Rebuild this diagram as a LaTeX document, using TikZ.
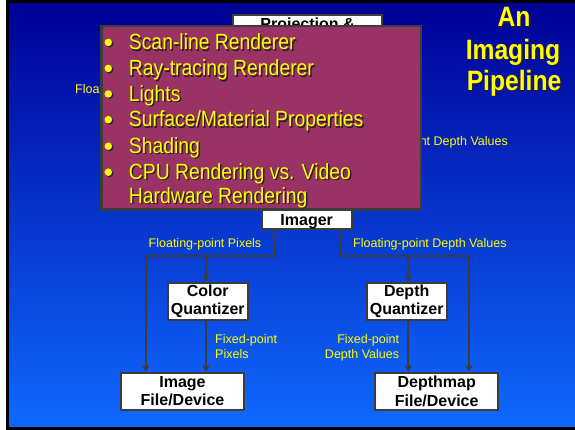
\documentclass[tikz,border=0pt]{standalone}
\usepackage{fontspec}
\setmainfont{Liberation Sans}
\newfontfamily\narrowfont[FakeStretch=0.88]{Liberation Sans}
\usetikzlibrary{arrows.meta}
\definecolor{bgtop}{RGB}{0,0,150}
\definecolor{bgmid}{RGB}{0,70,215}
\definecolor{bgbot}{RGB}{15,105,255}
\definecolor{plum}{RGB}{153,51,102}
\definecolor{edgegray}{RGB}{60,60,60}
\definecolor{hiyellow}{RGB}{255,255,0}
\definecolor{shadowc}{RGB}{40,30,30}
\newcommand{\shad}[1]{\makebox[0pt][l]{\hspace{1.4pt}\raisebox{-1.4pt}{\color{shadowc}#1}}#1}
\tikzset{
  box/.style={draw=edgegray, line width=2pt, fill=white, inner sep=0pt, align=center,
    font=\fontsize{16}{18.7}\selectfont\bfseries},
  boxtext/.style={inner sep=0pt, font=\fontsize{16}{18.7}\selectfont\bfseries},
  flowlabel/.style={text=hiyellow, inner sep=0pt, font=\fontsize{12.5}{14.7}\selectfont},
  flow/.style={draw=edgegray, line width=2pt, -{Triangle[length=6pt,width=7pt]}},
  bullettext/.style={text=hiyellow, inner sep=0pt, anchor=base west,
    font=\narrowfont\fontsize{22}{23.5}\selectfont},
  dot/.style={circle, fill=hiyellow, inner sep=0pt, minimum size=7.5pt},
  dotshadow/.style={circle, fill=shadowc, inner sep=0pt, minimum size=7.5pt},
  titletext/.style={text=hiyellow, inner sep=0pt, anchor=base,
    font=\narrowfont\bfseries\fontsize{28}{32}\selectfont},
  panel/.style={draw=edgegray, line width=2.5pt, fill=plum, inner sep=0pt}
}
\begin{document}
\begin{tikzpicture}[x=1pt,y=-1pt]
\useasboundingbox (0,0) rectangle (575,430);
% frame and background
\fill[white] (0,0) rectangle (575,430);
\fill[black] (6,0) rectangle (575,429.5);
\shade[top color=bgtop, middle color=bgmid, bottom color=bgbot] (9.3,3.3) rectangle (575,426.7);

% partly hidden labels (behind the panel)
\begin{scope}
  \clip (9.3,70) rectangle (101,110);
  \node[flowlabel, anchor=base west] (lblhidL) at (75,93.5) {Float};
\end{scope}
\node[flowlabel, anchor=base east] (lblhidR) at (508,145.5) {nt Depth Values};

% projection box (mostly hidden)
\node[box, minimum width=148.4pt, minimum height=40pt] (proj) at (307.5,35) {};
\node[boxtext, anchor=base] (projlabel) at (307.5,29.8) {Projection \&};

% boxes
\node[box, minimum width=90pt, minimum height=19pt, text depth=0pt] (imager) at (306.7,219.5) {Imager};
\node[box, minimum width=80.3pt, minimum height=37.3pt] (cq) at (207.8,301.3) {Color\\Quantizer};
\node[box, minimum width=80pt, minimum height=37.3pt] (dq) at (406.7,301.3) {Depth\\Quantizer};
\node[box, minimum width=123pt, minimum height=37.3pt] (image) at (182.5,391.3) {Image\\File/Device};
\node[box, minimum width=122.7pt, minimum height=37.3pt] (dmap) at (436.7,391.3) {Depthmap\\File/Device};

% junctions
\coordinate (jl) at (275,256);
\coordinate (jlfar) at (145.7,256);
\coordinate (jlmid) at (206,256);
\coordinate (jr) at (340.7,256);
\coordinate (jrfar) at (469,256);
\coordinate (jrmid) at (408.3,256);

% connectors
\draw[flow] (imager.south -| jl) -- (jl) -- (jlfar) -- (image.north -| jlfar);
\draw[flow] (jlmid) -- (cq.north -| jlmid);
\draw[flow] (cq.south -| jlmid) -- (image.north -| jlmid);
\draw[flow] (imager.south -| jr) -- (jr) -- (jrfar) -- (dmap.north -| jrfar);
\draw[flow] (jrmid) -- (dq.north -| jrmid);
\draw[flow] (dq.south -| jrmid) -- (dmap.north -| jrmid);

% connector labels
\node[flowlabel, anchor=base west] (lblFP) at (148.5,247.5) {Floating-point Pixels};
\node[flowlabel, anchor=base west] (lblFD) at (353,247.5) {Floating-point Depth Values};
\node[flowlabel, anchor=base west] (lblXP1) at (215,343.5) {Fixed-point};
\node[flowlabel, anchor=base west] (lblXP2) at (215,358.2) {Pixels};
\node[flowlabel, anchor=base east] (lblXD1) at (399.3,343.5) {Fixed-point};
\node[flowlabel, anchor=base east] (lblXD2) at (399.3,358.2) {Depth Values};

% overlay panel
\node[panel, minimum width=319.5pt, minimum height=183.8pt] (panelbox) at (261,117.85) {};
\foreach \yy/\nm in {42.4/a,68.4/b,94/c,119.7/d,146.2/e,172.2/f}{
  \node[dotshadow] (ds\nm) at (109.5,\yy+1.2) {};
  \node[dot] (d\nm) at (108.3,\yy) {};
}
\node[bullettext] (t1) at (128.7,49.7) {\shad{Scan-line Renderer}};
\node[bullettext] (t2) at (128.7,75.7) {\shad{Ray-tracing Renderer}};
\node[bullettext] (t3) at (128.7,101.3) {\shad{Lights}};
\node[bullettext] (t4) at (128.7,127) {\shad{Surface/Material Properties}};
\node[bullettext] (t5) at (128.7,153.5) {\shad{Shading}};
\node[bullettext] (t6) at (128.7,179.5) {\shad{CPU Rendering vs. Video}};
\node[bullettext] (t7) at (128.7,203.5) {\shad{Hardware Rendering}};

% title
\node[titletext] (title1) at (514,26.7) {\shad{An}};
\node[titletext] (title2) at (513,59.3) {\shad{Imaging}};
\node[titletext] (title3) at (514,90.5) {\shad{Pipeline}};
\end{tikzpicture}
\end{document}
